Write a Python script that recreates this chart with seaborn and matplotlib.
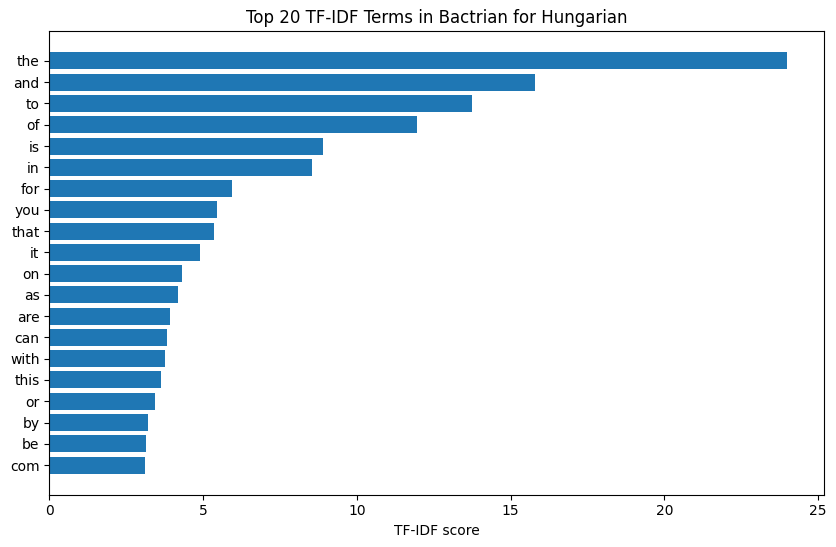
import matplotlib
matplotlib.use("Agg")
import matplotlib.pyplot as plt
import seaborn as sns
import pandas as pd

terms = ["the", "and", "to", "of", "is", "in", "for", "you", "that", "it",
         "on", "as", "are", "can", "with", "this", "or", "by", "be", "com"]
scores = [24.0, 15.80, 13.75, 11.96, 8.90, 8.55, 5.94, 5.46, 5.36, 4.90,
          4.32, 4.19, 3.93, 3.83, 3.76, 3.63, 3.44, 3.21, 3.15, 3.11]

df = pd.DataFrame({"term": terms, "score": scores})

fig = plt.figure(figsize=(8.36, 5.47), dpi=100)
ax = fig.add_axes([0.059, 0.0958, 0.927, 0.8468])
sns.barplot(data=df, x="score", y="term", orient="h", color="#1f77b4",
            saturation=1, width=0.8, ax=ax)
n = len(terms)
ax.set_ylim(n - 1 + 1.39, -1.39)
ax.set_xlim(0, 25.2)
ax.set_xticks([0, 5, 10, 15, 20, 25])
ax.set_title("Top 20 TF-IDF Terms in Bactrian for Hungarian", fontsize=12)
ax.set_xlabel("TF-IDF score")
ax.set_ylabel("")
fig.savefig("out.png", dpi=100)
